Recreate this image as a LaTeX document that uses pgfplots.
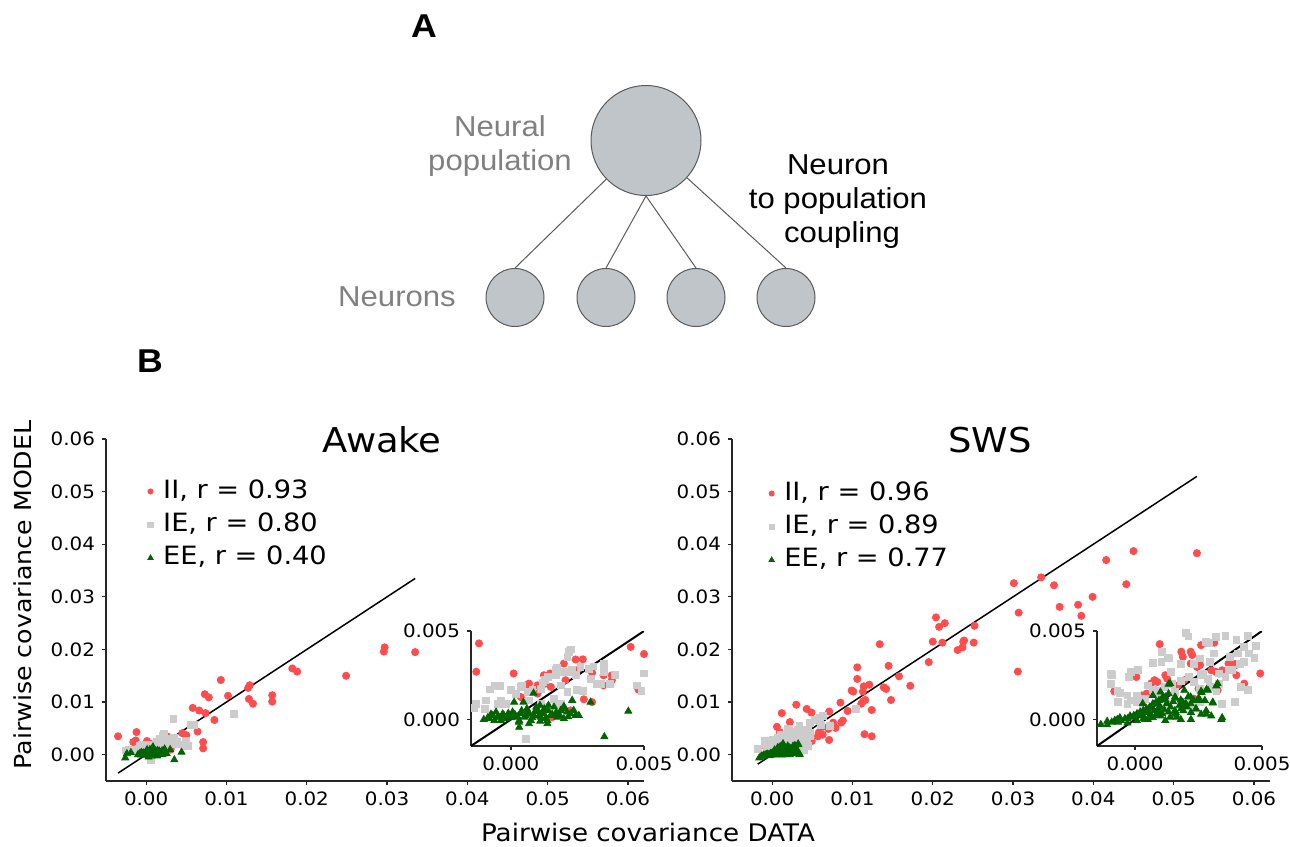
\documentclass[border=0pt]{standalone}
\usepackage{pgfplots}
\pgfplotsset{compat=1.18}
\usepackage{pgfplotstable}
\usepackage{fontspec}
\setmainfont[FakeStretch=1.08]{DejaVu Sans}
\newfontfamily\slidefont[FakeStretch=1.08]{Liberation Sans}

\definecolor{iicol}{RGB}{255,77,77}
\definecolor{iecol}{RGB}{204,204,204}
\definecolor{eecol}{RGB}{0,100,0}
\definecolor{cellfill}{RGB}{191,197,200}
\definecolor{celledge}{RGB}{90,90,90}
\definecolor{labgray}{RGB}{128,128,128}

% ---------- Awake ----------
\pgfplotstableread{
x y
-0.0035 0.0035
-0.0012 0.0043
-0.0016 0.0024
-0.0013 0.0027
0.0001 0.0026
0.0027 0.0034
0.0045 0.0041
0.0050 0.0037
0.0058 0.0089
0.0066 0.0084
0.0073 0.0115
0.0078 0.0109
0.0074 0.0079
0.0064 0.0044
0.0071 0.0024
0.0071 0.0012
0.0085 0.0066
0.0093 0.0142
0.0102 0.0112
0.0127 0.0127
0.0129 0.0132
0.0128 0.0106
0.0133 0.0097
0.0157 0.0113
0.0157 0.0101
0.0182 0.0164
0.0188 0.0158
0.0249 0.0150
0.0296 0.0196
0.0297 0.0204
0.0335 0.0195
0.00056 0.00193
0.00068 0.00203
0.00100 0.00193
0.00124 0.00250
0.00147 0.00260
0.00130 0.00203
0.00150 0.00184
0.00199 0.00316
0.00243 0.00339
0.00249 0.00278
0.00205 0.00222
0.00305 0.00263
0.00348 0.00250
0.00379 0.00250
0.00379 0.00222
0.00274 0.00114
0.00305 0.00098
0.00348 0.00193
0.00479 0.00169
0.00193 0.00070
0.00224 0.00051
0.00155 0.00013
0.00100 0.00146
0.00037 0.00127
}\awII

\pgfplotstableread{
x y
-0.0025 0.0008
-0.0021 0.0009
-0.0008 0.0017
-0.0004 0.0019
0.0004 0.0019
0.0012 0.0021
0.0017 0.0028
0.0022 0.0039
0.0034 0.0068
0.0034 0.0020
0.0039 0.0025
0.0049 0.0016
0.0052 0.0016
0.0056 0.0056
0.0060 0.0057
0.0109 0.0078
0.0023 0.0028
0.0031 0.0030
0.0027 0.0016
0.0017 0.0009
-0.00133 0.00089
-0.00137 0.00066
-0.00093 0.00108
-0.00097 0.00060
-0.00059 0.00188
-0.00050 0.00089
-0.00037 0.00108
-0.00019 0.00089
0.00000 0.00165
0.00019 0.00146
0.00062 0.00155
0.00081 0.00165
0.00128 0.00222
0.00139 0.00240
0.00174 0.00294
0.00187 0.00269
0.00212 0.00354
0.00218 0.00383
0.00224 0.00396
0.00218 0.00269
0.00243 0.00250
0.00261 0.00297
0.00292 0.00288
0.00299 0.00231
0.00323 0.00203
0.00348 0.00316
0.00348 0.00269
0.00373 0.00203
0.00187 0.00193
0.00212 0.00155
0.00249 0.00165
0.00162 0.00118
0.00187 0.00089
0.00112 0.00089
0.00137 0.00070
0.00056 -0.00110
0.00473 0.00193
0.00500 0.00260
0.00037 0.00184
0.00112 0.00174
0.00068 0.00108
0.00168 0.00250
}\awIE

\pgfplotstableread{
x y
-0.0026 -0.0006
-0.0024 0.0002
-0.0019 0.0004
-0.00102 0.00000
-0.00087 0.00010
-0.00068 0.00023
-0.00056 0.00042
-0.00044 0.00010
-0.00031 0.00032
-0.00019 0.00004
-0.00006 0.00023
0.00006 0.00042
0.00019 0.00013
0.00031 -0.00006
0.00037 0.00032
0.00050 0.00013
0.00062 0.00042
0.00075 -0.00006
0.00087 0.00023
0.00100 0.00051
0.00112 0.00013
0.00124 0.00032
0.00137 -0.00006
0.00149 0.00023
0.00162 0.00070
0.00174 0.00013
0.00187 0.00051
0.00199 0.00004
0.00211 0.00042
0.00230 0.00108
0.00224 0.00032
0.00243 0.00023
0.00255 0.00023
0.00299 0.00098
0.00441 0.00047
0.00351 -0.00097
0.00031 -0.00044
0.00068 -0.00024
0.00012 0.00098
0.00047 0.00098
0.00085 0.00149
0.00137 -0.00024
-0.00037 -0.00006
-0.00062 -0.00006
0.00141 0.00080
0.00199 0.00074
0.00236 0.00051
0.00109 0.00080
-0.00080 0.00005
-0.00075 0.00030
-0.00050 0.00015
-0.00025 0.00020
-0.00010 0.00035
0.00000 0.00010
0.00015 0.00028
0.00025 0.00015
0.00040 0.00050
0.00055 0.00020
0.00070 0.00030
0.00080 0.00010
0.00090 0.00045
0.00105 0.00020
0.00115 0.00035
0.00130 0.00005
0.00140 0.00050
0.00155 0.00030
0.00170 0.00040
0.00185 0.00020
0.00200 0.00060
0.00215 0.00015
0.00060 0.00060
0.00095 0.00070
0.00125 0.00060
0.00030 -0.00015
0.00110 -0.00010
}\awEE

% ---------- SWS ----------
\pgfplotstableread{
x y
0.0134 0.0210
0.0200 0.0215
0.0212 0.0213
0.0238 0.0215
0.0231 0.0199
0.0237 0.0204
0.0145 0.0169
0.0158 0.0149
0.0195 0.0176
0.0172 0.0131
0.0106 0.0166
0.0106 0.0144
0.0121 0.0133
0.0114 0.0130
0.0113 0.0120
0.0099 0.0122
0.0101 0.0120
0.0139 0.0128
0.0142 0.0125
0.0148 0.0104
0.0116 0.0104
0.0111 0.0097
0.0113 0.0101
0.0085 0.0099
0.0094 0.0083
0.0124 0.0085
0.0071 0.0082
0.0030 0.0095
0.0012 0.0079
0.0043 0.0087
0.0049 0.0080
0.0022 0.0062
0.0006 0.0053
0.0076 0.0061
0.0074 0.0055
0.0088 0.0065
0.0086 0.0061
0.0063 0.0053
0.0070 0.0049
0.0058 0.0042
0.0063 0.0038
0.0057 0.0035
0.0079 0.0051
0.0071 0.0028
0.0115 0.0039
0.0124 0.0035
0.0301 0.0326
0.0335 0.0337
0.0351 0.0322
0.0358 0.0281
0.0307 0.0270
0.0306 0.0158
0.0204 0.0261
0.0208 0.0243
0.0215 0.0250
0.0252 0.0245
0.0251 0.0213
0.0239 0.0217
0.0450 0.0387
0.0529 0.0383
0.0416 0.0370
0.0441 0.0324
0.0399 0.0300
0.0381 0.0285
0.0385 0.0264
0.00097 0.00426
0.00182 0.00383
0.00188 0.00354
0.00219 0.00383
0.00225 0.00364
0.00260 0.00420
0.00219 0.00316
0.00244 0.00297
0.00256 0.00307
0.00119 0.00250
0.00126 0.00231
0.00005 0.00240
-0.00082 0.00159
0.00076 0.00222
0.00088 0.00212
0.00063 0.00203
0.00026 0.00136
0.00045 0.00146
0.00368 0.00316
0.00396 0.00307
0.00399 0.00250
0.00430 0.00203
0.00493 0.00260
0.00318 0.00269
0.00343 0.00278
0.00250 0.00174
0.00231 0.00118
0.00250 0.00098
0.00300 0.00278
0.00194 0.00222
0.00169 0.00193
0.00325 0.00165
0.00312 0.00434
0.00331 0.00260
0.00393 0.00313
}\swII

\pgfplotstableread{
x y
-0.0018 0.0011
-0.0009 0.0025
-0.0007 0.0016
0.0001 0.0028
0.0007 0.0032
0.0013 0.0035
0.0009 0.0016
0.0018 0.0022
0.0021 0.0047
0.0028 0.0044
0.0034 0.0054
0.0047 0.0060
0.0053 0.0066
0.0059 0.0070
0.0063 0.0074
0.0043 0.0041
0.0038 0.0028
0.0026 0.0025
0.0072 0.0054
0.0104 0.0087
-0.0003 0.0009
0.0032 0.0016
0.0047 0.0035
0.0061 0.0057
0.0013 0.0009
-0.00096 0.00256
-0.00096 0.00199
-0.00061 0.00150
-0.00067 0.00098
-0.00030 0.00136
-0.00017 0.00108
0.00007 0.00136
-0.00024 0.00240
-0.00017 0.00269
0.00051 0.00193
0.00038 0.00118
0.00070 0.00165
0.00094 0.00146
0.00119 0.00184
0.00144 0.00203
0.00157 0.00155
0.00107 0.00383
0.00104 0.00326
0.00132 0.00345
0.00142 0.00269
0.00200 0.00490
0.00182 0.00316
0.00231 0.00316
0.00256 0.00345
0.00269 0.00260
0.00294 0.00326
0.00312 0.00373
0.00291 0.00434
0.00318 0.00468
0.00356 0.00472
0.00399 0.00449
0.00443 0.00472
0.00449 0.00373
0.00430 0.00326
0.00374 0.00354
0.00406 0.00373
0.00213 0.00240
0.00231 0.00212
0.00256 0.00174
0.00287 0.00231
0.00294 0.00184
0.00331 0.00203
0.00356 0.00240
0.00343 0.00089
0.00393 0.00098
0.00007 0.00098
0.00032 0.00089
0.00182 0.00080
0.00206 0.00098
0.00231 0.00070
0.00256 0.00098
0.00418 0.00184
0.00443 0.00165
0.00331 0.00260
0.00368 0.00278
0.00412 0.00316
0.00476 0.00417
}\swIE

\pgfplotstableread{
x y
-0.0016 -0.0006
-0.0011 -0.0003
-0.0007 0.0000
-0.0003 -0.0002
0.0001 0.0003
0.0005 0.0000
0.0009 0.0006
0.0011 0.0013
0.0016 0.0003
0.0020 0.0009
0.0022 0.0000
0.0026 0.0016
0.0028 0.0003
0.0032 0.0019
0.0034 0.0000
0.0003 0.0009
0.0018 0.0000
0.0024 0.0006
-0.00135 -0.00028
-0.00092 -0.00015
-0.00067 -0.00015
-0.00055 -0.00006
-0.00030 0.00004
-0.00017 0.00013
-0.00005 0.00023
0.00007 0.00032
0.00020 0.00042
0.00032 0.00051
0.00045 0.00061
0.00057 0.00070
0.00070 0.00089
0.00082 0.00098
0.00094 0.00108
0.00107 0.00118
0.00119 0.00127
0.00132 0.00146
0.00138 0.00203
0.00007 -0.00006
0.00032 0.00004
0.00057 0.00013
0.00082 0.00023
0.00107 0.00032
0.00132 0.00042
0.00157 0.00051
0.00182 0.00061
0.00194 0.00080
0.00219 0.00089
0.00231 0.00108
0.00256 0.00108
0.00275 0.00108
0.00287 0.00165
0.00306 0.00098
0.00325 0.00203
0.00343 0.00010
0.00163 0.00013
0.00138 0.00013
0.00119 -0.00006
0.00188 0.00098
0.00194 0.00165
0.00157 0.00127
0.00100 0.00155
0.00070 0.00136
0.00306 0.00093
0.00281 0.00169
0.00262 0.00152
0.00132 0.00199
0.00219 0.00127
-0.00110 -0.00010
-0.00080 -0.00005
-0.00060 0.00010
-0.00040 0.00005
-0.00020 0.00020
0.00000 0.00015
0.00015 0.00030
0.00030 0.00020
0.00045 0.00040
0.00060 0.00030
0.00075 0.00050
0.00090 0.00040
0.00100 0.00070
0.00115 0.00055
0.00125 0.00090
0.00140 0.00070
0.00150 0.00100
0.00160 0.00040
0.00175 0.00080
0.00190 0.00050
0.00205 0.00070
0.00220 0.00040
0.00240 0.00060
0.00260 0.00030
0.00280 0.00050
0.00300 0.00020
0.00100 0.00020
0.00070 0.00010
0.00040 0.00000
0.00120 0.00110
0.00090 0.00090
0.00060 0.00065
0.00160 0.00120
0.00180 0.00110
0.00210 0.00130
0.00250 0.00120
}\swEE

\pgfplotsset{
  panel/.style={
    scale only axis,
    axis lines=left,
    axis line style={-, black!85, line width=0.6pt},
    tick align=outside,
    major tick length=2pt,
    every tick/.style={black!85, line width=0.6pt},
    scaled ticks=false,
    /pgf/number format/assume math mode=true,
    tick label style={font=\fontsize{9.2}{11}\selectfont, black},
  },
  mainax/.style={
    panel, width=269pt, height=171pt,
    xmin=-0.005, xmax=0.062, ymin=-0.005, ymax=0.06,
    xtick={0,0.01,0.02,0.03,0.04,0.05,0.06},
    ytick={0,0.01,0.02,0.03,0.04,0.05,0.06},
    tick label style={/pgf/number format/fixed, /pgf/number format/fixed zerofill, /pgf/number format/precision=2},
    legend cell align=left,
    legend style={draw=none, fill=none, anchor=north west, inner sep=0pt,
      row sep=2.5pt,
      nodes={inner xsep=5pt, inner ysep=1pt, text height=9.5pt, text depth=2.6pt},
      font=\fontsize{12.6}{15}\selectfont},
  },
  insetax/.style={
    panel, height=57.5pt,
    xmin=-0.0015, xmax=0.005, ymin=-0.0015, ymax=0.005,
    xtick={0,0.005}, ytick={0,0.005},
    tick label style={/pgf/number format/fixed, /pgf/number format/fixed zerofill, /pgf/number format/precision=3},
  },
  inrange/.style={restrict x to domain=-0.0016:0.0052, restrict y to domain=-0.0016:0.0052},
  ii/.style={only marks, mark=*, mark size=1.8pt, color=iicol},
  ie/.style={only marks, mark=square*, mark size=1.7pt, color=iecol},
  ee/.style={only marks, mark=triangle*, mark size=2.0pt, color=eecol},
  legmark/.style={legend image code/.code={\draw[##1] plot coordinates {(0pt,0pt)};}},
}

\begin{document}
\begin{tikzpicture}
\useasboundingbox (0pt,0pt) rectangle (645pt,-423pt);

% ---------------- panel A ----------------
\node[font=\slidefont\bfseries\fontsize{16.5}{19}\selectfont, anchor=base] at (212pt,-18.5pt) {A};
\node[circle, draw=celledge, fill=cellfill, line width=0.5pt, minimum size=55pt, inner sep=0pt] (big) at (323pt,-70.25pt) {};
\foreach \i/\xx in {1/257.5, 2/303, 3/348, 4/393}
  \node[circle, draw=celledge, fill=cellfill, line width=0.5pt, minimum size=29pt, inner sep=0pt] (s\i) at (\xx pt,-148.75pt) {};
\draw[celledge, line width=0.5pt] (big) -- (s1.north);
\draw[celledge, line width=0.5pt] (big.south) -- (s2.north);
\draw[celledge, line width=0.5pt] (big.south) -- (s3.north);
\draw[celledge, line width=0.5pt] (big) -- (s4.north);
\begin{scope}[font=\slidefont\fontsize{14.4}{17}\selectfont]
\node[labgray, anchor=base] at (250pt,-68pt) {Neural};
\node[labgray, anchor=base] at (250pt,-85pt) {population};
\node[labgray, anchor=base] at (198.5pt,-153pt) {Neurons};
\node[anchor=base] at (419pt,-87pt) {Neuron};
\node[anchor=base] at (419pt,-104pt) {to population};
\node[anchor=base] at (421pt,-121pt) {coupling};
\end{scope}

% ---------------- panel B ----------------
\node[font=\slidefont\bfseries\fontsize{16.5}{19}\selectfont, anchor=base] at (75pt,-186pt) {B};

% Awake main
\begin{axis}[mainax, at={(53pt,-390.5pt)}, anchor=south west,
  legend style={at={(axis description cs:0.077,0.889)}}]
\addplot[ii, forget plot] table {\awII};
\addplot[ie, forget plot] table {\awIE};
\addplot[ee, forget plot] table {\awEE};
\addplot[black, line width=0.75pt, forget plot] coordinates {(-0.0035,-0.0035) (0.0335,0.0335)};
\addlegendimage{ii, mark size=1.3pt, legmark}
\addlegendentry{II, r = 0.93}
\addlegendimage{ie, mark size=1.35pt, legmark}
\addlegendentry{IE, r = 0.80}
\addlegendimage{ee, mark size=1.5pt, legmark}
\addlegendentry{EE, r = 0.40}
\end{axis}

% Awake inset
\begin{axis}[insetax, width=86.5pt, at={(235.5pt,-373pt)}, anchor=south west]
\addplot[ii, inrange] table {\awII};
\addplot[ie, inrange] table {\awIE};
\addplot[ee, inrange] table {\awEE};
\addplot[black, line width=1pt] coordinates {(-0.0035,-0.0035) (0.0335,0.0335)};
\end{axis}

% SWS main
\begin{axis}[mainax, at={(366pt,-390.5pt)}, anchor=south west,
  legend style={at={(axis description cs:0.068,0.883)}}]
\addplot[ii, forget plot] table {\swII};
\addplot[ie, forget plot] table {\swIE};
\addplot[ee, forget plot] table {\swEE};
\addplot[black, line width=0.75pt, forget plot] coordinates {(-0.0018,-0.0018) (0.0529,0.0529)};
\addlegendimage{ii, mark size=1.3pt, legmark}
\addlegendentry{II, r = 0.96}
\addlegendimage{ie, mark size=1.35pt, legmark}
\addlegendentry{IE, r = 0.89}
\addlegendimage{ee, mark size=1.5pt, legmark}
\addlegendentry{EE, r = 0.77}
\end{axis}

% SWS inset
\begin{axis}[insetax, width=82.5pt, at={(548.5pt,-373pt)}, anchor=south west]
\addplot[ii, inrange] table {\swII};
\addplot[ie, inrange] table {\swIE};
\addplot[ee, inrange] table {\swEE};
\addplot[black, line width=1pt] coordinates {(-0.0018,-0.0018) (0.0529,0.0529)};
\end{axis}

% titles and shared labels
\node[anchor=base, font=\fontsize{17.1}{20}\selectfont] at (191pt,-226pt) {Awake};
\node[anchor=base, font=\fontsize{17.1}{20}\selectfont] at (495pt,-226pt) {SWS};
\node[anchor=base, rotate=90, font=\fontsize{11.7}{14}\selectfont] at (16pt,-297.5pt) {Pairwise covariance MODEL};
\node[anchor=base, font=\fontsize{12.1}{14}\selectfont] at (324pt,-420.5pt) {Pairwise covariance DATA};
\end{tikzpicture}
\end{document}
